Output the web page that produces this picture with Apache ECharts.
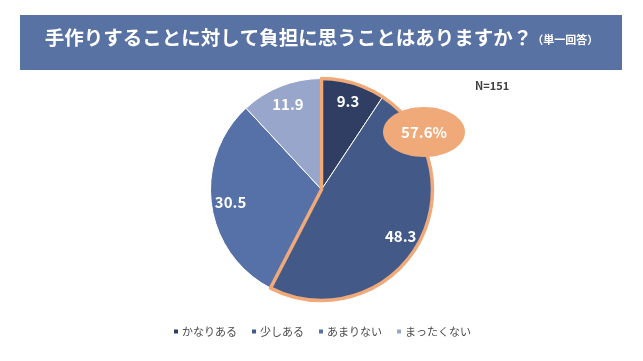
<!DOCTYPE html>
<html><head><meta charset="utf-8">
<script src="https://cdn.jsdelivr.net/npm/echarts@6/dist/echarts.min.js"></script>
<style>html,body{margin:0;padding:0;background:#fff}#c{width:643px;height:361px}</style>
</head><body><div id="c"></div>
<script>
const categories = ['かなりある', '少しある', 'あまりない', 'まったくない'];
const values = [9.3, 48.3, 30.5, 11.9];
const colors = ['#2f3e62', '#435a89', '#5571a7', '#97a6ca'];
const titleMain = '手作りすることに対して負担に思うことはありますか？';
const titleSub = '（単一回答）';
const nLabel = 'N=151';

const burden = Math.round((values[0] + values[1]) * 10) / 10;
const rest = Math.round((100 - burden) * 10) / 10;
const center = ['50%', '52.5%'];
const R = 111;
const F = '"Noto Sans CJK JP", "Noto Sans", sans-serif';

const chart = echarts.init(document.getElementById('c'));
chart.setOption({
  animation: false,
  graphic: [
    { type: 'rect', left: 20, top: 15, shape: { width: 602, height: 55 }, style: { fill: '#5872a3' }, z: 0 },
    { type: 'text', left: 'center', top: 28, z: 1, style: {
      text: '{a|' + titleMain + '}{b|' + titleSub + '}',
      rich: { a: { fill: '#fff', font: 'bold 19.5px ' + F }, b: { fill: '#fff', font: 'bold 11px ' + F, padding: [5, 0, 0, 0] } }
    } },
    { type: 'text', left: 475, top: 80, style: { text: nLabel, fill: '#404040', font: 'bold 11px ' + F } },
    { type: 'ellipse', z: 10, shape: { cx: 424, cy: 132, rx: 41, ry: 25 }, style: { fill: '#f0a979' } },
    { type: 'text', z: 11, x: 424, y: 132, style: { text: burden.toFixed(1) + '%', fill: '#fff', font: 'bold 15px ' + F, align: 'center', verticalAlign: 'middle' } }
  ],
  legend: {
    bottom: 19, left: 'center', itemWidth: 6, itemHeight: 6, itemGap: 13, icon: 'rect',
    textStyle: { color: '#4a4a4a', fontSize: 11, fontFamily: F, padding: [0, 0, 0, -2] },
    data: categories
  },
  color: colors,
  series: [
    {
      type: 'pie', radius: R, center: center, startAngle: 90, clockwise: true,
      label: { show: false }, labelLine: { show: false }, emphasis: { disabled: true },
      itemStyle: { borderColor: '#fff', borderWidth: 1 },
      data: categories.map((c, i) => ({ name: c, value: values[i], itemStyle: { color: colors[i] } }))
    },
    {
      type: 'pie', radius: R, center: center, startAngle: 90, clockwise: true, silent: true,
      label: { show: false }, labelLine: { show: false }, emphasis: { disabled: true },
      data: [
        { name: '_b', value: burden, itemStyle: { color: 'rgba(0,0,0,0)', borderColor: '#f0a979', borderWidth: 3.5 } },
        { name: '_r', value: rest, itemStyle: { color: 'rgba(0,0,0,0)', borderWidth: 0 } }
      ]
    },
    {
      type: 'pie', radius: [R * 0.6, R], center: center, startAngle: 90, clockwise: true, silent: true,
      labelLine: { show: false }, emphasis: { disabled: true },
      label: { show: true, position: 'inside', color: '#fff', fontSize: 15, fontWeight: 'bold', fontFamily: F, formatter: p => p.value.toFixed(1) },
      itemStyle: { color: 'rgba(0,0,0,0)' },
      data: categories.map((c, i) => ({ name: c + ' ', value: values[i] }))
    }
  ]
});
</script></body></html>
